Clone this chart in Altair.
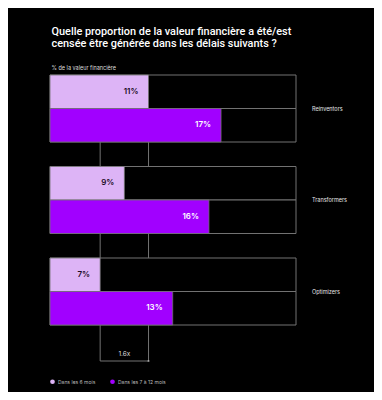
import altair as alt
import pandas as pd

groups = ["Reinventors", "Transformers", "Optimizers"]
periods = ["Dans les 6 mois", "Dans les 7 à 12 mois"]
within_6 = [11, 9, 7]
within_7_12 = [17, 16, 13]
ratio_label = "1.6x"
ratio_pair = [7, 11]
title_lines = ["Quelle proportion de la valeur financière a été/est",
               "censée être générée dans les délais suivants ?"]
subtitle = "% de la valeur financière"

LIGHT = "#DDB4F6"
DARK = "#A100FF"
GRID = "#727272"
FONT = "Inter"
TFONT = "Roboto"

W, H = 246, 290
BAR_H = 33.5
GROUP_STEP = 91.5
XMIN, XMAX = 2.85, 23.2

rows = []
for gi, g in enumerate(groups):
    for pi, (p, vals) in enumerate(zip(periods, [within_6, within_7_12])):
        top = gi * GROUP_STEP + pi * BAR_H
        rows.append({"group": g, "period": p, "value": vals[gi],
                     "label": f"{vals[gi]}%", "y0": top, "y1": top + BAR_H,
                     "ym": top + BAR_H / 2,
                     "tcolor": "#1b0b24" if pi == 0 else "#ffffff"})
df = pd.DataFrame(rows)
gdf = pd.DataFrame({"group": groups,
                    "yc": [gi * GROUP_STEP + BAR_H for gi in range(len(groups))]})

bracket_top = 2 * BAR_H
bracket_y = 286
vdf = pd.DataFrame({"x": ratio_pair, "y0": [bracket_top] * 2, "y1": [bracket_y] * 2})
hdf = pd.DataFrame({"x": [ratio_pair[0]], "x2": [ratio_pair[1]], "y": [bracket_y],
                    "xm": [sum(ratio_pair) / 2], "lab": [ratio_label]})

xs = alt.Scale(domain=[XMIN, XMAX], zero=False, nice=False)
ys = alt.Scale(domain=[0, H], reverse=True, nice=False, zero=False)

base = alt.Chart(df)

vrules = alt.Chart(vdf).mark_rule(color=GRID, strokeWidth=1).encode(
    x=alt.X("x:Q", scale=xs, axis=None),
    y=alt.Y("y0:Q", scale=ys, axis=None), y2="y1:Q")

boxes = base.mark_rect(fill="#000000", stroke=GRID, strokeWidth=1).encode(
    x=alt.value(0), x2=alt.value(W),
    y=alt.Y("y0:Q", scale=ys, axis=None), y2="y1:Q")

bars = base.mark_rect(stroke=GRID, strokeWidth=0.8).encode(
    x=alt.X("x0:Q", scale=xs, axis=None), x2="value:Q",
    y=alt.Y("y0:Q", scale=ys, axis=None), y2="y1:Q",
    color=alt.Color("period:N", scale=alt.Scale(domain=periods, range=[LIGHT, DARK]),
                    legend=alt.Legend(title=None, orient="none", legendX=0, legendY=304,
                                      direction="horizontal", symbolType="circle",
                                      symbolSize=22, symbolStrokeWidth=0,
                                      labelFontSize=5, labelColor="#bbbbbb",
                                      labelFont=FONT, columnPadding=14,
                                      symbolOffset=0, labelOffset=3))
).transform_calculate(x0=str(XMIN))

labels = base.mark_text(align="right", baseline="middle", dx=-10, fontSize=8,
                        fontWeight=600, font=FONT).encode(
    x=alt.X("value:Q", scale=xs), y=alt.Y("ym:Q", scale=ys),
    text="label:N", color=alt.Color("tcolor:N", scale=None))

glabels = alt.Chart(gdf).mark_text(align="left", baseline="middle", fontSize=5.5,
                                   color="#e6e6e6", font=FONT).encode(
    x=alt.value(262), y=alt.Y("yc:Q", scale=ys), text="group:N")

hrule = alt.Chart(hdf).mark_rule(color=GRID, strokeWidth=1).encode(
    x=alt.X("x:Q", scale=xs), x2="x2:Q", y=alt.Y("y:Q", scale=ys))
arrow = alt.Chart(hdf).mark_point(shape="square", filled=True, size=3, color="#cccccc").encode(
    x=alt.X("x2:Q", scale=xs), y=alt.Y("y:Q", scale=ys))
htext = alt.Chart(hdf).mark_text(fontSize=6.5, color="#dddddd", baseline="bottom",
                                 dy=-4, font=FONT).encode(
    x=alt.X("xm:Q", scale=xs), y=alt.Y("y:Q", scale=ys), text="lab:N")

chart = alt.layer(vrules, boxes, bars, labels, glabels, hrule, arrow, htext).properties(
    width=W, height=H,
    autosize=alt.AutoSizeParams(type="none"),
    padding={"left": 42, "top": 67, "right": 78, "bottom": 27},
    background="#000000",
    title=alt.TitleParams(text=title_lines, subtitle=subtitle, anchor="start",
                          fontSize=10.9, lineHeight=12.5, font=TFONT, fontWeight=500,
                          color="#ffffff", subtitleFont=FONT, subtitleFontSize=5.5,
                          subtitleColor="#dddddd", subtitlePadding=17, offset=3, dx=2)
).configure_view(stroke=None)

chart.save("out.html", embed_options={"renderer": "svg", "actions": False})
